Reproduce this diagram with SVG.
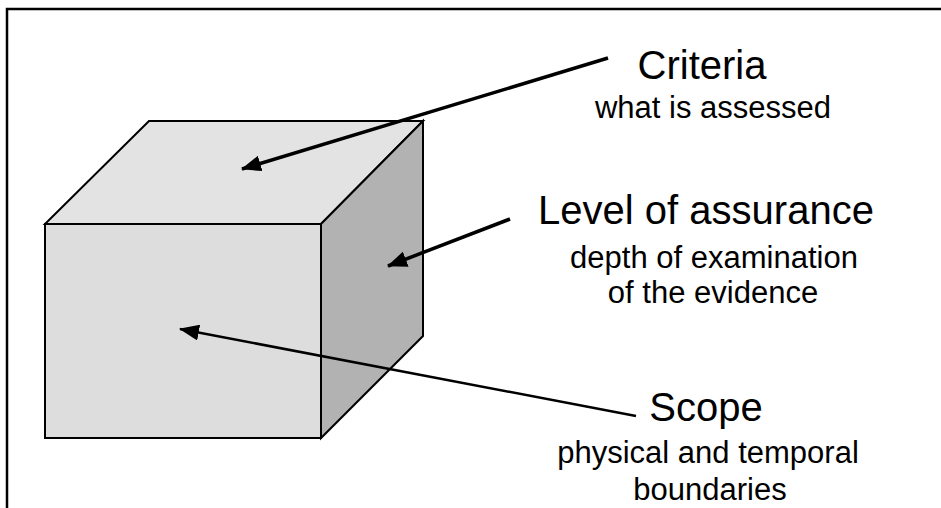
<svg xmlns="http://www.w3.org/2000/svg" width="941" height="508" viewBox="0 0 941 508">
<defs>
<style>
.face{stroke:#000;stroke-width:2;stroke-linejoin:miter}
.title{font-family:"Liberation Sans",Arial,sans-serif;font-size:40px;fill:#000;text-anchor:middle}
.sub{font-family:"Liberation Sans",Arial,sans-serif;font-size:31px;fill:#000;text-anchor:middle}
.conn{stroke:#000;fill:none}
</style>
<marker id="ah" viewBox="0 0 20 16" refX="19" refY="8" markerWidth="20" markerHeight="16" markerUnits="userSpaceOnUse" orient="auto" preserveAspectRatio="none">
<path d="M0,0 L20,8 L0,16 z" fill="#000"/>
</marker>
</defs>
<rect width="941" height="508" fill="#fff"/>
<path d="M7,508 V9 H941" fill="none" stroke="#000" stroke-width="2.5"/>
<g id="cube">
<polygon class="face" points="149,121 423,121 321,224 45,224" fill="#e3e3e3"/>
<polygon class="face" points="321,224 423,121 423,336 321,438" fill="#b2b2b2"/>
<rect class="face" x="45" y="224" width="276" height="214" fill="#dddddd"/>
</g>
<g id="connectors">
<line class="conn" x1="608" y1="58" x2="242" y2="169" stroke-width="3.5" marker-end="url(#ah)"/>
<line class="conn" x1="510" y1="219" x2="388" y2="266" stroke-width="3.5" marker-end="url(#ah)"/>
<line class="conn" x1="636" y1="416" x2="180" y2="329" stroke-width="2.5" marker-end="url(#ah)"/>
</g>
<g id="criteria">
<text class="title" x="702" y="79">Criteria</text>
<text class="sub" x="713" y="118">what is assessed</text>
</g>
<g id="level">
<text class="title" x="706" y="224">Level of assurance</text>
<text class="sub" x="714" y="268">depth of examination</text>
<text class="sub" x="713" y="303">of the evidence</text>
</g>
<g id="scope">
<text class="title" x="706" y="421">Scope</text>
<text class="sub" x="708" y="463">physical and temporal</text>
<text class="sub" x="710" y="500">boundaries</text>
</g>
</svg>
